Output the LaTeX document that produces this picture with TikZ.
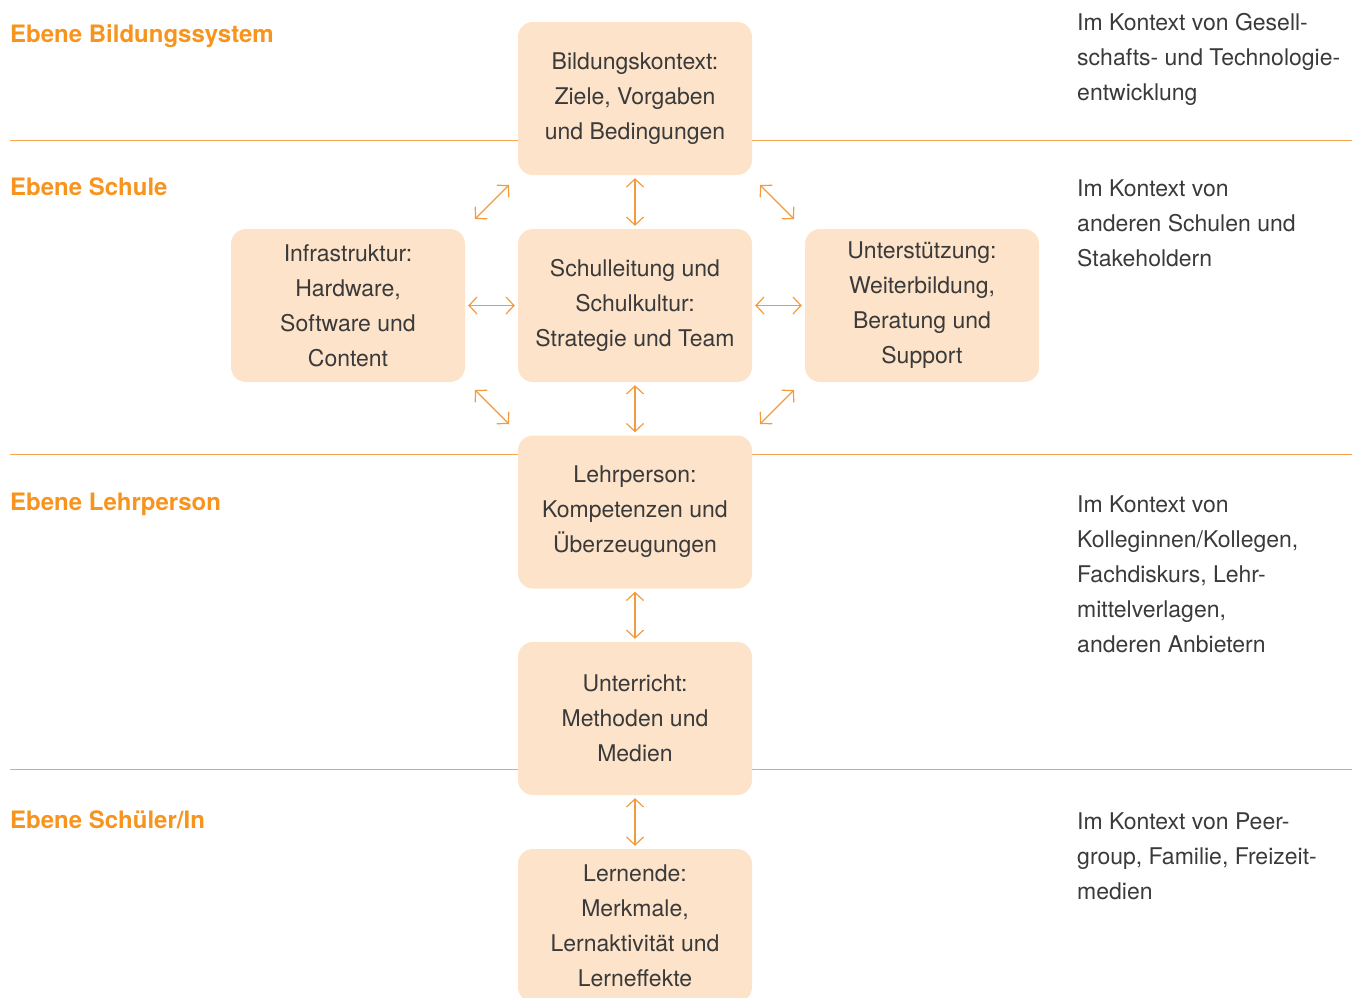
\documentclass[tikz,border=0pt]{standalone}
\usepackage{fontspec}
\setmainfont{TeX Gyre Heros}
\usetikzlibrary{arrows.meta}
\definecolor{orangeT}{HTML}{F7941E}
\definecolor{orangeL}{HTML}{F5A452}
\definecolor{orangeA}{HTML}{F39A3C}
\definecolor{peach}{HTML}{FDE3C9}
\definecolor{txt}{HTML}{3A3A3A}
\tikzset{
  level/.style={font=\bfseries\fontsize{24}{28}\selectfont, text=orangeT, anchor=west, inner sep=0pt},
  ctx/.style={font=\fontsize{23}{35}\selectfont, text=txt, align=left, anchor=west, inner sep=0pt},
  box/.style={fill=peach, rounded corners=15pt, minimum width=234pt, minimum height=153pt, inner sep=0pt,
    font=\fontsize{23}{35}\selectfont, text=txt, align=center},
  sep/.style={draw=orangeL, line width=1pt},
  dbl/.style={draw=orangeA, line width=1.2pt, {Straight Barb[length=8pt,width=17pt]}-{Straight Barb[length=8pt,width=17pt]}, shorten >=3pt, shorten <=3pt},
  dbld/.style={draw=orangeA, line width=1.2pt, {Straight Barb[length=8pt,width=17pt]}-{Straight Barb[length=8pt,width=17pt]}}
}
\begin{document}
\begin{tikzpicture}[x=1pt,y=-1pt]
\useasboundingbox (0,0) rectangle (1352,997);
\clip (0,0) rectangle (1352,997);
% separators
\coordinate (l1a) at (10,140); \coordinate (l1b) at (1352,140);
\coordinate (l2a) at (10,454); \coordinate (l2b) at (1352,454);
\coordinate (l3a) at (10,769); \coordinate (l3b) at (1352,769);
\draw[sep] (l1a) -- (l1b);
\draw[sep] (l2a) -- (l2b);
\draw[sep] (l3a) -- (l3b);
% level labels
\node[level] (h1) at (10,36) {Ebene Bildungssystem};
\node[level] (h2) at (10,187) {Ebene Schule};
\node[level] (h3) at (10,504) {Ebene Lehrperson};
\node[level] (h4) at (10,820) {Ebene Schüler/In};
% context texts
\node[ctx] (c1) at (1077,59) {Im Kontext von Gesell-\\schafts- und Technologie-\\entwicklung};
\node[ctx] (c2) at (1077,223) {Im Kontext von\\anderen Schulen und\\Stakeholdern};
\node[ctx] (c3) at (1077,574) {Im Kontext von\\Kolleginnen/Kollegen,\\Fachdiskurs, Lehr-\\mittelverlagen,\\anderen Anbietern};
\node[ctx] (c4) at (1077,856) {Im Kontext von Peer-\\group, Familie, Freizeit-\\medien};
% boxes
\node[box] (bk) at (635,98.5) {Bildungskontext:\\Ziele, Vorgaben\\und Bedingungen};
\node[box] (sl) at (635,305.5) {Schulleitung und\\Schulkultur:\\Strategie und Team};
\node[box] (inf) at (348,305.5) {Infrastruktur:\\Hardware,\\Software und\\Content};
\node[box] (ust) at (922,305.5) {Unterstützung:\\Weiterbildung,\\Beratung und\\Support};
\node[box] (lp) at (635,512) {Lehrperson:\\Kompetenzen und\\Überzeugungen};
\node[box] (ur) at (635,718.5) {Unterricht:\\Methoden und\\Medien};
\node[box] (ln) at (635,925.5) {Lernende:\\Merkmale,\\Lernaktivität und\\Lerneffekte};
% arrows
\draw[dbl] (bk.south) -- (sl.north);
\draw[dbl] (sl.south) -- (lp.north);
\draw[dbl] (lp.south) -- (ur.north);
\draw[dbl] (ur.south) -- (ln.north);
\draw[dbl] (inf.east) -- (sl.west);
\draw[dbl] (sl.east) -- (ust.west);
\coordinate (d1a) at (475,219); \coordinate (d1b) at (509,185);
\coordinate (d2a) at (760,185); \coordinate (d2b) at (794,219);
\coordinate (d3a) at (475,390); \coordinate (d3b) at (509,424);
\coordinate (d4a) at (760,424); \coordinate (d4b) at (794,390);
\draw[dbld] (d1a) -- (d1b);
\draw[dbld] (d2a) -- (d2b);
\draw[dbld] (d3a) -- (d3b);
\draw[dbld] (d4a) -- (d4b);
\end{tikzpicture}
\end{document}
